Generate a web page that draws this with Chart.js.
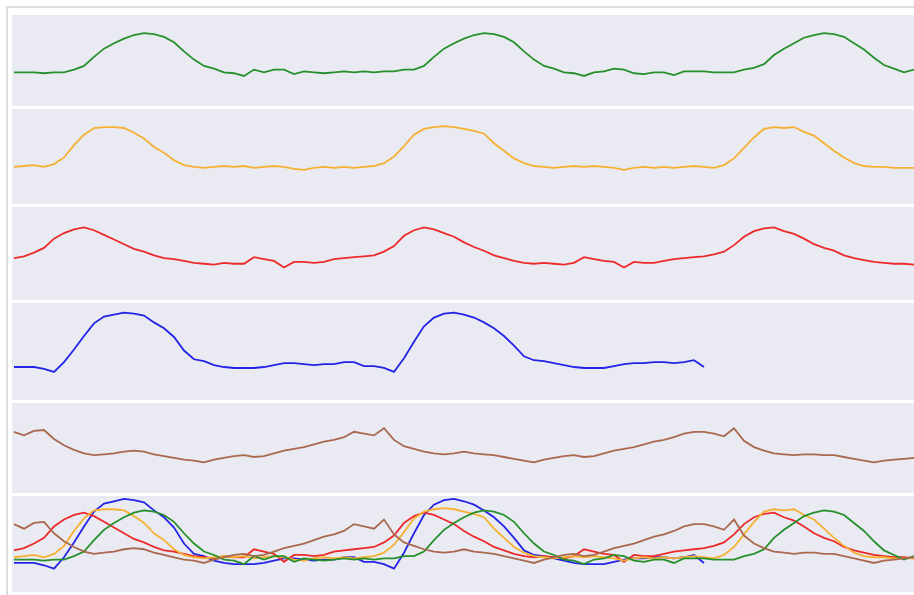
<!DOCTYPE html>
<html>
<head>
<meta charset="utf-8">
<script src="https://cdn.jsdelivr.net/npm/chart.js@4/dist/chart.umd.min.js"></script>
<style>
  html, body { margin: 0; padding: 0; background: #fff; overflow: hidden; }
  #frame {
    position: absolute; left: 6px; top: 6px; width: 1000px; height: 700px;
    border-top: 2px solid #dcdcdc; border-left: 2px solid #dcdcdc;
  }
  .panel { position: absolute; left: 12px; width: 902px; background: #eaeaf2; }
  .panel canvas { display: block; }
</style>
</head>
<body>
<div id="frame"></div>
<div id="panels"></div>
<script>
// sample index (one step = one time unit along the shared x axis)
const steps = Array.from({ length: 91 }, (_, i) => i);

const green = [37, 37, 37, 36, 37, 37, 40, 44, 54, 63, 69, 74, 78, 80, 79, 76, 70, 60, 51, 44,
  41, 37, 36, 33, 40, 37, 40, 40, 35, 38, 37, 36, 37, 38, 37, 38, 37, 38, 38, 40,
  40, 44, 54, 63, 69, 74, 78, 80, 79, 76, 70, 60, 51, 44, 41, 37, 36, 33, 37, 38,
  41, 40, 36, 35, 37, 37, 34, 38, 38, 38, 37, 37, 37, 40, 42, 46, 56, 63, 69, 75,
  78, 80, 79, 76, 69, 62, 53, 45, 41, 37, 40];

const yellow = [39, 40, 41, 39, 42, 49, 62, 73, 80, 81, 81, 80, 75, 69, 60, 54, 46, 41, 39, 38,
  39, 40, 39, 40, 38, 39, 40, 39, 37, 36, 38, 39, 38, 39, 38, 39, 40, 43, 50, 61,
  73, 79, 81, 82, 81, 79, 77, 74, 64, 56, 48, 43, 40, 39, 38, 39, 40, 39, 40, 39,
  38, 36, 38, 39, 38, 39, 38, 39, 40, 39, 38, 41, 48, 59, 70, 79, 81, 80, 81, 76,
  72, 64, 56, 49, 43, 40, 39, 39, 38, 38, 38];

const red = [45, 47, 51, 56, 66, 72, 76, 78, 75, 70, 65, 60, 55, 52, 48, 45, 44, 42, 40, 39,
  38, 40, 39, 39, 46, 44, 42, 35, 41, 41, 40, 41, 44, 45, 46, 47, 48, 52, 58, 69,
  75, 78, 76, 72, 68, 62, 57, 53, 48, 45, 42, 40, 39, 40, 39, 38, 40, 46, 44, 42,
  41, 35, 41, 40, 40, 42, 44, 45, 46, 47, 49, 52, 59, 68, 74, 77, 78, 74, 71, 66,
  60, 56, 53, 48, 45, 43, 41, 40, 39, 39, 38];

const blue = [34, 34, 34, 32, 29, 39, 52, 66, 79, 86, 88, 90, 89, 87, 80, 74, 65, 51, 42, 40,
  36, 34, 33, 33, 33, 34, 36, 38, 38, 37, 36, 37, 37, 39, 39, 35, 35, 33, 29, 43,
  60, 76, 85, 89, 90, 88, 85, 80, 74, 66, 56, 45, 41, 40, 38, 36, 34, 33, 33, 33,
  35, 37, 38, 38, 39, 39, 38, 39, 41, 34];

const brown = [68, 64, 69, 70, 60, 53, 48, 44, 42, 43, 44, 46, 47, 46, 43, 41, 39, 37, 36, 34,
  37, 39, 41, 42, 40, 41, 44, 47, 49, 51, 54, 57, 59, 62, 68, 66, 64, 72, 59, 52,
  49, 46, 44, 43, 44, 46, 44, 43, 42, 40, 38, 36, 34, 37, 39, 41, 42, 40, 41, 44,
  47, 49, 51, 54, 57, 59, 62, 66, 68, 68, 66, 63, 72, 58, 51, 47, 44, 43, 42, 43,
  43, 42, 42, 40, 38, 36, 34, 36, 37, 38, 39];

const colors = {
  green: '#25902c',
  yellow: '#f5b133',
  red: '#ec2a2a',
  blue: '#2424e6',
  brown: '#a8694e'
};

// panel boxes [top, bottom] in page pixels
const panelBoxes = [[15, 106], [109, 204], [207, 300], [303, 400], [403, 493], [496, 592]];

function series(vals, color) {
  return {
    data: vals.map((v, i) => ({ x: steps[i], y: v })),
    borderColor: color,
    borderWidth: 1.8,
    pointRadius: 0,
    tension: 0,
    fill: false
  };
}

const panelSets = [
  [series(green, colors.green)],
  [series(yellow, colors.yellow)],
  [series(red, colors.red)],
  [series(blue, colors.blue)],
  [series(brown, colors.brown)],
  [series(brown, colors.brown), series(green, colors.green), series(yellow, colors.yellow),
   series(red, colors.red), series(blue, colors.blue)]
];

const yRanges = [[0, 100], [0, 100], [0, 100], [0, 100], [0, 100], [8.6, 92.6]];

const holder = document.getElementById('panels');
panelBoxes.forEach((box, k) => {
  const h = box[1] - box[0];
  const div = document.createElement('div');
  div.className = 'panel';
  div.style.top = box[0] + 'px';
  div.style.height = h + 'px';
  const cv = document.createElement('canvas');
  cv.width = 902;
  cv.height = h;
  div.appendChild(cv);
  holder.appendChild(div);

  new Chart(cv, {
    type: 'line',
    data: { datasets: panelSets[k] },
    options: {
      responsive: false,
      animation: false,
      devicePixelRatio: 1,
      layout: { padding: 0 },
      plugins: { legend: { display: false }, tooltip: { enabled: false } },
      scales: {
        x: { type: 'linear', display: false, min: -0.2, max: 90 },
        y: { display: false, min: yRanges[k][0], max: yRanges[k][1] }
      }
    }
  });
});
</script>
</body>
</html>
